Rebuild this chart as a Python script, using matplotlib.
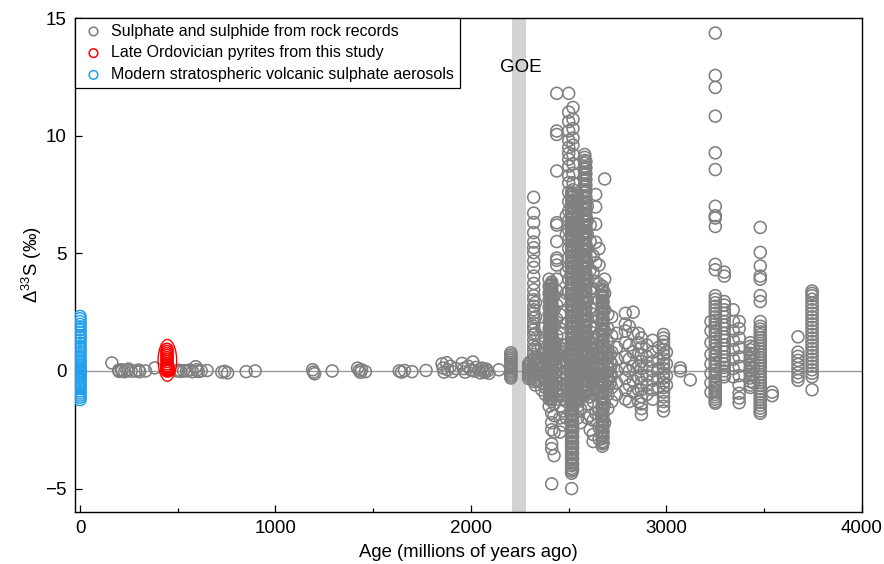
import matplotlib
matplotlib.use("Agg")
import matplotlib.pyplot as plt
from matplotlib.patches import Ellipse

plt.rcParams['font.family'] = ['Liberation Sans', 'DejaVu Sans']
plt.rcParams['mathtext.fontset'] = 'custom'
plt.rcParams['mathtext.rm'] = 'Liberation Sans'

# ---- data (age in Myr, D33S in permil) ----
# modern stratospheric volcanic sulphate aerosols
aerosol_age = [0]
aerosol_d33s = [[2.32, 2.22, 2.1, 1.98, 1.88, 1.75, 1.62, 1.5, 1.41, 1.3, 1.18, 1.05, 0.95,
                 0.86, 0.74, 0.63, 0.55, 0.46, 0.38, 0.3, 0.22, 0.15, 0.08, 0.02, -0.04,
                 -0.1, -0.17, -0.24, -0.31, -0.4, -0.5, -0.58, -0.67, -0.75, -0.85, -0.94,
                 -1.03, -1.12, -1.22]]

# Late Ordovician pyrites (this study)
ordo_age = [445, 450]
ordo_d33s = [[0.92, 0.83, 0.74, 0.66, 0.57, 0.49, 0.4, 0.3, 0.22, 0.15, 0.1, 0.06, 0.03, 0.0],
             [0.12, 0.18, 0.05, 0.0, 0.08]]

# rock records < 2.2 Ga
young_age = [163, 198, 200, 212, 215, 228, 240, 248, 262, 285, 300, 305, 335, 383,
             494, 505, 515, 530, 545, 560, 575, 592, 598, 605, 620, 650,
             725, 740, 755, 850, 896,
             1190, 1195, 1200, 1290,
             1420, 1428, 1435, 1440, 1460,
             1633, 1645, 1660, 1698, 1770,
             1852, 1858, 1862, 1875, 1880, 1895, 1905, 1923,
             1954, 1962, 1970, 1985, 1998, 2010, 2015, 2026,
             2041, 2048, 2055, 2062, 2070, 2078, 2085, 2092, 2143]
young_d33s = [0.34, 0.03, -0.02, 0.05, 0.0, -0.03, 0.02, 0.08, -0.01, 0.0, 0.04, -0.03, 0.0, 0.13,
              0.0, 0.03, -0.02, 0.01, 0.0, 0.04, -0.03, 0.18, 0.05, -0.02, 0.0, 0.02,
              -0.05, -0.02, -0.08, -0.03, 0.0,
              0.05, -0.05, -0.12, 0.0,
              0.12, 0.02, -0.06, 0.05, -0.03,
              0.0, -0.05, 0.02, -0.03, 0.02,
              0.3, 0.12, -0.05, 0.35, 0.05, 0.2, -0.03, 0.1,
              0.32, 0.1, -0.05, 0.2, 0.05, 0.38, 0.0, 0.15,
              0.05, -0.08, 0.12, 0.0, -0.05, 0.08, 0.0, -0.1, 0.05]

# rock records 2.2 - 3.1 Ga, grouped in columns
neo_age = [2204, 2295, 2305, 2321, 2330, 2362, 2380, 2400, 2413, 2425, 2439, 2455, 2470, 2488,
           2500, 2515, 2522, 2546, 2560, 2582, 2595, 2610, 2625, 2638, 2655, 2672, 2684,
           2700, 2720, 2745, 2790, 2810, 2830, 2857, 2872, 2900, 2930, 2960, 2985, 3000,
           3071, 3122]
neo_d33s = [
    [0.77, 0.68, 0.6, 0.52, 0.45, 0.37, 0.3, 0.22, 0.15, 0.08, 0.0, -0.07, -0.15, -0.22, -0.3],
    [0.3, 0.18, 0.05, -0.08, -0.2, -0.32],
    [0.25, 0.1, -0.02, -0.15, -0.28, 0.4],
    [7.38, 6.71, 6.31, 5.88, 5.48, 5.24, 5.03, 4.67, 4.4, 4.03, 3.72, 3.45, 3.2, 3.03, 2.75,
     2.6, 2.46, 2.25, 2.04, 1.9, 1.75, 1.55, 1.32, 1.1, 0.9, 0.7, 0.5, 0.32, 0.15, 0.0, -0.15,
     -0.3, -0.45],
    [2.9, 2.3, 1.6, 1.0, 0.6, 0.25, -0.1, -0.4, -0.6],
    [1.8, 1.4, 1.0, 0.7, 0.4, 0.1, -0.2, -0.5, -0.8],
    [1.2, 0.8, 0.5, 0.2, -0.1, -0.4, -0.7, -1.0],
    [3.9, 3.6, 3.3, 3.0, 2.7, 2.4, 2.1, 1.8, 1.5, 1.2, 0.9, 0.6, 0.3, 0.0, -0.3, -0.6, -0.9,
     -1.2, -1.5],
    [3.78, 3.7, 3.62, 3.52, 3.43, 3.35, 3.25, 3.16, 3.08, 2.98, 2.9, 2.8, 2.71, 2.62, 2.54,
     2.45, 2.36, 2.27, 2.18, 2.1, 2.0, 1.91, 1.82, 1.73, 1.64, 1.55, 1.46, 1.38, 1.29, 1.2,
     1.11, 1.02, 0.93, 0.84, 0.75, 0.66, 0.57, 0.48, 0.4, 0.31, 0.22, 0.13, 0.04, -0.05,
     -0.14, -0.23, -0.32, -0.41, -0.5, -0.59, -0.68, -0.77, -0.86, -0.95, -1.04, -1.13,
     -1.22, -1.8, -2.2, -2.5, -3.1, -3.3, -4.8],
    [-1.4, -1.9, -2.6, -3.6, 0.5, 1.2, 2.0, 2.6, 3.2],
    [11.8, 10.2, 10.05, 8.5, 6.3, 6.2, 5.5, 4.8, 4.7, 4.5, 3.9, 3.4, 2.8, 2.2, 1.5, 0.8,
     -0.5, -1.2],
    [3.0, 2.4, 1.8, 1.0, 0.4, -0.3, -0.8, -1.5, -2.0, -2.6],
    [2.5, 1.6, 0.9, 0.2, -0.4, -1.0, -1.7, -2.3],
    [6.6, 5.8, 4.2, 3.3, 2.0, 1.1, 0.3, -0.6, -1.3, -2.0],
    [11.8, 11.0, 10.6, 10.2, 9.8, 9.5, 9.25, 9.0, 8.7, 8.3, 8.0, 7.6, 7.2, 6.8, 6.4, 6.0,
     5.6, 5.2, 4.8, 4.4, 3.9, 3.4],
    [7.6, 7.48, 7.37, 7.25, 7.14, 7.02, 6.9, 6.79, 6.67, 6.55, 6.44, 6.32, 6.2, 6.09, 5.97,
     5.86, 5.74, 5.62, 5.51, 5.39, 5.27, 5.16, 5.04, 4.93, 4.81, 4.69, 4.58, 4.46, 4.34,
     4.23, 4.11, 4.0, 3.88, 3.76, 3.65, 3.53, 3.41, 3.3, 3.18, 3.07, 2.95, 2.83, 2.72, 2.6,
     2.48, 2.37, 2.25, 2.14, 2.02, 1.9, 1.79, 1.67, 1.55, 1.44, 1.32, 1.21, 1.09, 0.97,
     0.86, 0.74, 0.62, 0.51, 0.39, 0.28, 0.16, 0.04, -0.07, -0.19, -0.31, -0.42, -0.54,
     -0.65, -0.77, -0.89, -1.0, -1.12, -1.24, -1.35, -1.47, -1.58, -1.7, -1.82, -1.93,
     -2.05, -2.17, -2.28, -2.4, -2.51, -2.63, -2.75, -2.86, -2.98, -3.1, -3.21, -3.33,
     -3.44, -3.56, -3.68, -3.79, -3.91, -4.03, -4.14, -4.26, -4.35, -5.0],
    [11.2, 10.7, 10.3, 9.9, 9.6, 9.2, 8.8, 8.4, 8.0, 7.7, 6.9, 6.1, 5.3, 4.6],
    [7.45, 7.3, 7.1, 6.9, 6.7, 6.5, 6.3, 6.1, 5.9, 5.7, 5.5, 5.3, 5.1, 4.9, 4.7, 4.5, 4.3,
     4.1, 3.9, 3.7, 3.5, 3.3, 3.1, 2.9, 2.7, 2.5, 2.3, 2.1, 1.9, 1.7, 1.5, 1.3, 1.1, 0.9,
     0.7, 0.5, 0.3, 0.1, -0.1, -0.3, -0.5, -0.7, -0.9, -1.1, -1.3, -1.5, -1.7, -2.0],
    [6.0, 5.0, 4.2, 3.6, 2.8, 2.2, 1.4, 0.8, 0.2, -0.4, -1.0, -1.6, -2.2],
    [9.2, 9.08, 8.95, 8.83, 8.7, 8.58, 8.45, 8.33, 8.2, 8.08, 7.95, 7.83, 7.7, 7.58, 7.45,
     7.33, 7.2, 7.08, 6.95, 6.83, 6.7, 6.58, 6.45, 6.33, 6.2, 6.08, 5.95, 5.83, 5.7, 5.58,
     5.45, 5.33, 5.2, 5.08, 4.95, 4.83, 4.7, 4.58, 4.45, 4.33, 4.2, 4.08, 3.95, 3.83, 3.7,
     3.58, 3.45, 3.33, 3.2, 3.08, 2.95, 2.83, 2.7, 2.58, 2.45, 2.33, 2.2, 2.08, 1.95, 1.83,
     1.7, 1.58, 1.45, 1.33, 1.2, 1.08, 0.95, 0.83, 0.7, 0.58, 0.45, 0.33, 0.2, 0.08, -0.05,
     -0.17, -0.3, -0.42, -0.55, -0.67, -0.8, -0.92, -1.05],
    [7.0, 6.4, 5.8, 5.2, 4.6, 3.8, 3.0, 2.2, 1.5, 0.8, 0.0, -0.8, -1.4, -2.0],
    [6.2, 5.5, 4.9, 4.3, 3.5, 2.7, 1.9, 1.2, 0.5, -0.3, -1.1, -1.9, -2.5],
    [4.9, 4.2, 3.5, 2.6, 1.8, 1.0, 0.3, -0.5, -1.3, -2.1, -2.7, -3.0],
    [7.5, 6.97, 6.24, 5.47, 4.6, 3.8, 2.9, 2.1, 1.4, 0.6, -0.2, -1.0, -1.8],
    [5.2, 4.5, 3.7, 3.0, 2.3, 1.5, 0.7, -0.1, -0.9, -1.7, -2.4, -2.9],
    [3.6, 3.48, 3.36, 3.24, 3.12, 3.0, 2.88, 2.76, 2.64, 2.52, 2.4, 2.28, 2.16, 2.04, 1.92,
     1.8, 1.68, 1.56, 1.44, 1.32, 1.2, 1.08, 0.96, 0.84, 0.72, 0.6, 0.48, 0.36, 0.24, 0.12,
     0.0, -0.12, -0.24, -0.36, -0.48, -0.6, -0.72, -0.84, -0.96, -1.08, -1.2, -1.32, -1.44,
     -1.56, -1.68, -1.8, -1.92, -2.04, -2.16, -2.28, -2.4, -2.52, -2.64, -2.76, -2.88, -3.0,
     -3.1, -3.2],
    [8.16, 3.9, 3.3, 2.6, 1.7, 0.9, -0.6, -1.4, -2.2],
    [2.4, 1.8, 1.2, 0.6, 0.1, -0.4, -1.0, -1.6],
    [2.3, 1.5, 0.8, 0.3, -0.2, -0.7, -1.3],
    [1.6, 1.0, 0.5, 0.0, -0.5, -1.0],
    [2.45, 2.0, 1.7, 1.2, 0.6, 0.1, -0.3, -0.8, -1.2],
    [1.9, 1.1, 0.5, 0.0, -0.6, -1.3],
    [2.5, 1.6, 0.8, 0.2, -0.4, -0.9],
    [1.6, 1.2, 0.7, 0.2, -0.3, -0.8, -1.3],
    [1.4, 1.0, 0.7, 0.4, 0.1, -0.2, -0.5, -0.8, -1.1, -1.4, -1.6, -1.85],
    [1.1, 0.6, 0.2, -0.2, -0.6, -1.0],
    [1.3, 0.8, 0.4, 0.0, -0.4, -0.8, -1.2],
    [1.0, 0.5, 0.1, -0.3, -0.7],
    [1.55, 1.4, 1.25, 1.1, 0.9, 0.7, 0.5, 0.3, 0.1, -0.1, -0.3, -0.5, -0.7, -0.9, -1.1,
     -1.3, -1.5, -1.7],
    [0.8, 0.3, -0.2, -0.6],
    [0.13, 0.0],
    [-0.38],
]

# extra samples filling the densest Neoarchean columns
dense_age = [2408, 2520, 2588, 2676, 2340, 2432, 2450, 2476, 2535, 2565, 2604, 2624, 2650,
             2700, 2712]
dense_d33s = [
    [3.66, 3.47, 3.3, 3.12, 2.94, 2.76, 2.58, 2.4, 2.22, 2.04, 1.87, 1.69, 1.51, 1.33, 1.15,
     0.97, 0.79, 0.61, 0.44, 0.26, 0.08, -0.1, -0.28, -0.46, -0.64, -0.82, -1.0, -1.18],
    [7.42, 7.2, 6.96, 6.73, 6.5, 6.26, 6.03, 5.8, 5.57, 5.33, 5.1, 4.87, 4.63, 4.4, 4.17,
     3.94, 3.7, 3.47, 3.24, 3.0, 2.77, 2.54, 2.31, 2.08, 1.84, 1.61, 1.38, 1.15, 0.91, 0.68,
     0.45, 0.22, -0.01, -0.25, -0.48, -0.71, -0.94, -1.18, -1.41, -1.64, -1.87, -2.11,
     -2.34, -2.57, -2.8, -3.04, -3.27, -3.5, -3.73, -3.97, -4.2],
    [8.9, 8.64, 8.39, 8.14, 7.89, 7.64, 7.39, 7.14, 6.89, 6.64, 6.39, 6.14, 5.89, 5.64,
     5.39, 5.14, 4.89, 4.64, 4.39, 4.14, 3.89, 3.64, 3.39, 3.14, 2.89, 2.64, 2.39, 2.14,
     1.89, 1.64, 1.39, 1.14, 0.89, 0.64, 0.39, 0.14, -0.11, -0.36, -0.61, -0.86],
    [3.42, 3.18, 2.94, 2.7, 2.46, 2.22, 1.98, 1.74, 1.5, 1.26, 1.02, 0.78, 0.54, 0.3, 0.06,
     -0.18, -0.42, -0.66, -0.9, -1.14, -1.38, -1.62, -1.86, -2.1, -2.34, -2.58, -2.82, -3.05],
    [0.9, 0.6, 0.35, 0.1, -0.15, -0.4],
    [1.0, 0.72, 0.45, 0.18, -0.1, -0.38, -0.65, -0.92],
    [0.85, 0.55, 0.3, 0.05, -0.2, -0.48, -0.75, -1.05],
    [1.1, 0.8, 0.5, 0.22, -0.05, -0.33, -0.6, -0.9, -1.2],
    [1.2, 0.9, 0.6, 0.3, 0.0, -0.3, -0.6, -0.9, -1.25],
    [1.05, 0.75, 0.45, 0.15, -0.15, -0.45, -0.75, -1.1],
    [1.3, 1.0, 0.7, 0.4, 0.1, -0.2, -0.5, -0.8, -1.1],
    [1.0, 0.7, 0.4, 0.1, -0.2, -0.5, -0.8],
    [1.1, 0.8, 0.5, 0.2, -0.1, -0.4, -0.7, -1.0],
    [0.9, 0.55, 0.25, -0.05, -0.35, -0.65],
    [0.7, 0.4, 0.1, -0.2, -0.5],
]

# rock records > 3.2 Ga
paleo_age = [3228, 3250, 3296, 3342, 3372, 3429, 3445, 3480, 3541, 3673, 3745]
paleo_d33s = [
    [2.1, 1.7, 1.2, 0.7, 0.3, -0.1, -0.5, -0.9],
    [14.36, 12.56, 12.05, 10.83, 9.27, 8.56, 7.0, 6.6, 6.5, 6.14, 4.53, 4.3, 3.2, 3.05, 2.9,
     2.75, 2.6, 2.45, 2.3, 2.15, 2.0, 1.85, 1.7, 1.55, 1.4, 1.25, 1.1, 0.95, 0.8, 0.65, 0.5,
     0.35, 0.2, 0.05, -0.1, -0.25, -0.4, -0.5, -0.6, -0.7, -0.8, -0.9, -1.0, -1.1, -1.2,
     -1.3, -1.37],
    [4.2, 4.03, 2.95, 2.8, 2.6, 2.45, 2.3, 2.1, 1.95, 1.8, 1.6, 1.45, 1.3, 1.1, 0.95, 0.8,
     0.6, 0.45, 0.3, 0.15, 0.0, -0.15, -0.25],
    [2.6, 2.1, 1.7, 1.3, 0.9, 0.5, 0.1, -0.25],
    [2.1, 1.8, 1.4, 1.0, 0.6, 0.2, -0.2, -0.6, -0.95, -1.15, -1.35],
    [1.2, 1.05, 0.9, 0.75, 0.6, 0.45, 0.3, 0.15, 0.0, -0.15, -0.3, -0.45, -0.6, -0.7],
    [1.0, 0.7, 0.4, 0.1, -0.2, -0.5],
    [6.1, 5.04, 4.46, 4.03, 3.9, 3.2, 2.95, 2.1, 1.9, 1.78, 1.66, 1.54, 1.42, 1.3, 1.18,
     1.06, 0.94, 0.82, 0.7, 0.58, 0.46, 0.34, 0.22, 0.1, -0.02, -0.14, -0.26, -0.38, -0.5,
     -0.62, -0.74, -0.86, -0.98, -1.1, -1.22, -1.34, -1.46, -1.58, -1.7, -1.8],
    [-0.9, -1.05],
    [1.45, 0.8, 0.62, 0.45, 0.28, 0.1, -0.08, -0.25, -0.4],
    [3.4, 3.3, 3.2, 3.05, 2.9, 2.75, 2.6, 2.45, 2.3, 2.15, 2.0, 1.85, 1.7, 1.55, 1.4, 1.25,
     1.1, 0.95, 0.8, 0.65, 0.5, 0.35, 0.2, 0.05, -0.1, -0.25, -0.8],
]

goe_span = (2212, 2282)


def flatten(ages, cols):
    xs, ys = [], []
    for a, vals in zip(ages, cols):
        xs += [a] * len(vals)
        ys += vals
    return xs, ys


rock_x, rock_y = list(young_age), list(young_d33s)
for ages, cols in [(neo_age, neo_d33s), (dense_age, dense_d33s), (paleo_age, paleo_d33s)]:
    xs, ys = flatten(ages, cols)
    rock_x += xs
    rock_y += ys
ordo_x, ordo_y = flatten(ordo_age, ordo_d33s)
aero_x, aero_y = flatten(aerosol_age, aerosol_d33s)

fig = plt.figure(figsize=(8.84, 5.64), dpi=100)
ax = fig.add_axes([0.085, 0.092, 0.89, 0.876])

ax.axvspan(goe_span[0], goe_span[1], color='#d3d3d3', lw=0, zorder=0)
ax.axhline(0, color='#9a9a9a', lw=1.0, zorder=1)

grey = '#808080'
ax.scatter(rock_x, rock_y, s=74, facecolors='none', edgecolors=grey, linewidths=1.15,
           zorder=2, label='Sulphate and sulphide from rock records')
ax.scatter(ordo_x, ordo_y, s=74, facecolors='none', edgecolors='red', linewidths=1.1,
           zorder=3, label='Late Ordovician pyrites from this study')
ax.scatter(aero_x, aero_y, s=74, facecolors='none', edgecolors='#22A0EE', linewidths=1.1,
           zorder=3, label='Modern stratospheric volcanic sulphate aerosols')
ax.add_patch(Ellipse((447, 0.45), width=95, height=1.78, fill=False, edgecolor='red',
                     lw=1.0, zorder=4))

ax.text(2255, 12.9, 'GOE', ha='center', va='center', fontsize=13.5)

ax.set_xlim(-25, 4000)
ax.set_ylim(-6, 15)
ax.set_xticks([0, 1000, 2000, 3000, 4000])
ax.set_xticks([500, 1500, 2500, 3500], minor=True)
ax.set_yticks([-5, 0, 5, 10, 15])
ax.tick_params(axis='both', which='major', direction='in', length=5, width=0.9,
               labelsize=13.5, pad=6)
ax.tick_params(axis='x', which='minor', direction='in', length=3, width=0.9)
for sp in ax.spines.values():
    sp.set_linewidth(1.0)

ax.set_xlabel('Age (millions of years ago)', fontsize=13.3, labelpad=5)
ax.set_ylabel(r'$\Delta^{33}$S (‰)', fontsize=13.3, labelpad=1)

leg = ax.legend(loc='upper left', borderaxespad=0, fancybox=False, frameon=True,
                fontsize=11.5, markerscale=0.72, handletextpad=0.3, handlelength=1.6,
                labelspacing=0.42, borderpad=0.35)
leg.get_frame().set_edgecolor('black')
leg.get_frame().set_linewidth(0.9)
leg.get_frame().set_alpha(1)

fig.savefig('out.png', dpi=100)
